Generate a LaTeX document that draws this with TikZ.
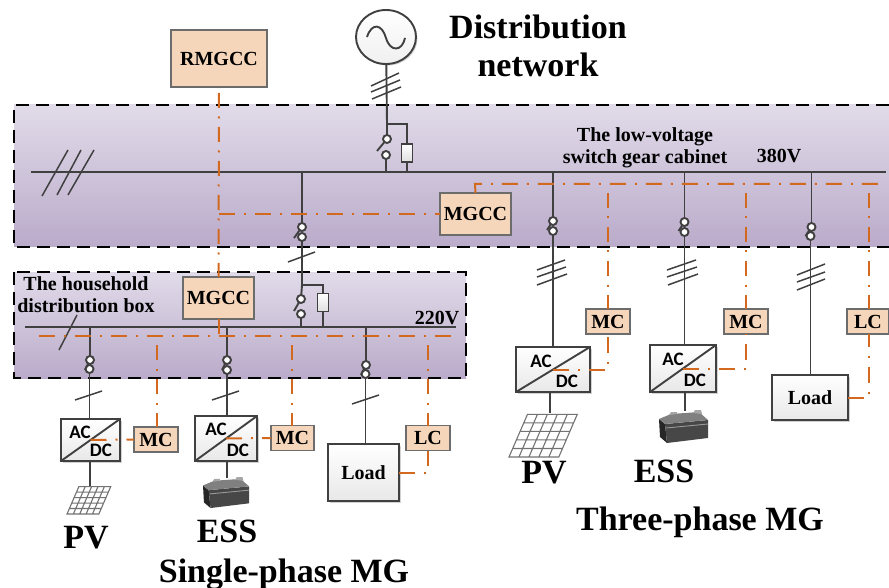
\documentclass[tikz,border=0pt]{standalone}
\usepackage{fontspec}
\setmainfont{Liberation Serif}
\newfontfamily\convfont{Carlito}
\usetikzlibrary{shapes.geometric,shadows}

\definecolor{ctrlorange}{RGB}{210,105,30}
\definecolor{ctrlfill}{RGB}{246,214,186}
\definecolor{gearcolor}{RGB}{64,64,64}
\definecolor{paneltop}{RGB}{225,219,233}
\definecolor{panelbot}{RGB}{186,171,202}

\newcommand{\slashmark}[4]{\draw [gearline, line width=1.5pt] (#1,#2) -- (#3,#4);}
\newcommand{\solarpanel}[3]{\draw [gray!90!black, line width=1.1pt, fill=white, shift={(#1,#2)}, scale=#3,
  cm={.35,0,.13,.30,(0,0)}, x=1cm, y=1cm] (0,0) rectangle (5,5) (0,0) grid (5,5);}
\newcommand{\batterypack}[3]{
\begin{scope}[shift={(#1,#2)}, scale=#3]
\fill [black!85] (0,9) -- (6,14) -- (8,33) -- (1,27) -- cycle;
\fill [black!72] (6,14) -- (49,10) -- (49,28) -- (8,33) -- cycle;
\fill [black!50] (0,9) -- (12,4) -- (40,2) -- (49,10) -- (6,14) -- cycle;
\fill [black!35] (10,5) -- (12,2) -- (18,2) -- (18,4) -- cycle;
\fill [black!35] (34,3) -- (36,0) -- (42,0) -- (43,4) -- cycle;
\draw [black!40, line width=0.9pt] (7,18) -- (49,14);
\end{scope}}

\begin{document}
\begin{tikzpicture}[x=1pt, y=-1pt]
\tikzset{ >=latex, inner sep=0pt, outer sep=0pt,
  softshadow/.style={drop shadow={shadow xshift=1.5pt, shadow yshift=-1.5pt, fill=black!35}},
  gearline/.style={draw=gearcolor, line width=1.9pt},
  ctrlbus/.style={draw=ctrlorange, line width=2pt, dash pattern=on 16pt off 9pt on 2pt off 9pt},
  ctrlwire/.style={draw=ctrlorange, line width=2pt, dash pattern=on 15pt off 8.5pt on 2pt off 8.5pt},
  panelbox/.style={top color=paneltop, bottom color=panelbot},
  panelrim/.style={draw=black, line width=1.4pt, dash pattern=on 13pt off 7pt},
  ctrlbox/.style={draw=gray!85!black, line width=1.2pt, fill=ctrlfill, font=\fontsize{20}{22}\selectfont\bfseries},
  contact/.style={circle, gearline, fill=white, minimum size=8pt},
  fusebox/.style={gearline, rectangle, top color=white, bottom color=gray!25, minimum width=11pt, minimum height=18pt},
  convbox/.style={gearline, rectangle, top color=white, bottom color=gray!18, softshadow},
  loadbox/.style={gearline, rectangle, top color=white, bottom color=gray!18, softshadow, font=\fontsize{20}{22}\selectfont\bfseries},
  convtext/.style={font=\fontsize{19}{20}\selectfont\convfont\bfseries},
  smalltext/.style={font=\fontsize{20}{22}\selectfont\bfseries, align=center},
  bigtext/.style={font=\fontsize{34}{38}\selectfont\bfseries, align=center},
}
\useasboundingbox (0,0) rectangle (889,588);

% panels
\fill [panelbox] (14,105) rectangle (889,247);
\draw [panelrim] (889,105) -- (14,105) -- (14,247) -- (889,247);
\fill [panelbox] (14,272) rectangle (466,378);
\draw [panelrim] (14,272) rectangle (466,378);

% bus bars
\coordinate (busL) at (31,172);
\coordinate (busR) at (886,172);
\coordinate (lbusL) at (25,327);
\coordinate (lbusR) at (456,327);
\draw [gearline] (busL) -- (busR);
\draw [gearline] (lbusL) -- (lbusR);

% control boxes
\node [ctrlbox, minimum width=96pt, minimum height=57pt] (RMGCC) at (219,58.5) {RMGCC};
\node [ctrlbox, minimum width=71pt, minimum height=42pt] (MGCCa) at (475.5,214) {MGCC};
\node [ctrlbox, minimum width=71pt, minimum height=42pt] (MGCCb) at (218.5,298) {MGCC};
\node [ctrlbox, minimum width=44pt, minimum height=25pt] (MCa) at (156,439.5) {MC};
\node [ctrlbox, minimum width=43pt, minimum height=25pt] (MCb) at (292.5,438) {MC};
\node [ctrlbox, minimum width=44pt, minimum height=25pt] (LCa) at (428,438) {LC};
\node [ctrlbox, minimum width=44pt, minimum height=25pt] (MCc) at (608,321.5) {MC};
\node [ctrlbox, minimum width=44pt, minimum height=25pt] (MCd) at (746,321.5) {MC};
\node [ctrlbox, minimum width=42pt, minimum height=25pt] (LCb) at (868,321.5) {LC};

% source
\node [ellipse, gearline, top color=white, bottom color=gray!12, softshadow, minimum width=60pt, minimum height=54pt] (source) at (386,37) {};
\draw [gearline] (367,37) .. controls (372,22) and (382,24) .. (386,38) .. controls (390,52) and (402,52) .. (405,38);

% switches
\node [contact] (swSa) at (387,139) {};
\node [contact] (swSb) at (386,155) {};
\node [contact] (swDa) at (302,227) {};
\node [contact] (swDb) at (302,237) {};
\node [contact] (swHa) at (301,299) {};
\node [contact] (swHb) at (301,314) {};
\node [contact] (swa) at (90,360) {};
\node [contact] (swb) at (89.5,369) {};
\node [contact] (swc) at (227,360) {};
\node [contact] (swd) at (227,370) {};
\node [contact] (swe) at (366,365) {};
\node [contact] (swf) at (365.5,374) {};
\node [contact] (swg) at (553,221) {};
\node [contact] (swh) at (553,231) {};
\node [contact] (swi) at (684.5,222) {};
\node [contact] (swj) at (684.5,232) {};
\node [contact] (swk) at (811.5,227) {};
\node [contact] (swl) at (810.5,236) {};

\node [fusebox] (fuseS) at (407,153) {};
\node [fusebox] (fuseH) at (323,302.5) {};

% converters and loads
\node [convbox, minimum width=59pt, minimum height=42pt] (convA) at (90.5,440) {};
\node [convbox, minimum width=62pt, minimum height=45pt] (convB) at (226,438.5) {};
\node [convbox, minimum width=74pt, minimum height=45pt] (convC) at (553,369.5) {};
\node [convbox, minimum width=66pt, minimum height=47pt] (convD) at (683,368.5) {};
\node [loadbox, minimum width=71pt, minimum height=57pt] (loadA) at (363.5,472.5) {Load};
\node [loadbox, minimum width=76pt, minimum height=45pt] (loadB) at (810,397.5) {Load};

\draw [gearline] (convA.south west) -- (convA.north east);
\draw [gearline] (convB.south west) -- (convB.north east);
\draw [gearline] (convC.south west) -- (convC.north east);
\draw [gearline] (convD.south west) -- (convD.north east);

\node [convtext] (acA) at (80,432) {AC};
\node [convtext] (dcA) at (101,450) {DC};
\node [convtext] (acB) at (216,429) {AC};
\node [convtext] (dcB) at (238,450) {DC};
\node [convtext] (acC) at (541,361) {AC};
\node [convtext] (dcC) at (567,381) {DC};
\node [convtext] (acD) at (673,359) {AC};
\node [convtext] (dcD) at (695,380) {DC};

% source feeder
\coordinate (forkS) at (387,124);
\coordinate (forkH) at (302,285);
\draw [gearline] (source) -- (forkS) -- (swSa);
\draw [gearline] (swSb) -- (swSb |- busL);
\draw [gearline] (forkS) -| (fuseS);
\draw [gearline] (fuseS) -- (fuseS |- busL);
\draw [gearline] (swSa) -- +(-10,12);

% drop to the household box
\draw [gearline] (swDa |- busL) -- (swDa);
\draw [gearline] (swDb) -- (forkH) -- (swHa);
\draw [gearline] (swDa) -- +(-8,11);
\draw [gearline] (forkH) -| (fuseH);
\draw [gearline] (fuseH) -- (fuseH |- lbusL);
\draw [gearline] (swHb) -- (swHb |- lbusL);
\draw [gearline] (swHa) -- +(-7,12);

% single-phase branches
\draw [gearline] (swa |- lbusL) -- (swa);
\draw [gearline] (swb) -- (swb |- convA.north);
\draw [gearline] (swa) -- +(-5,10);
\draw [gearline] (swc |- lbusL) -- (swc);
\draw [gearline] (swd) -- (swd |- convB.north);
\draw [gearline] (swc) -- +(-5,10);
\draw [gearline] (swe |- lbusL) -- (swe);
\draw [gearline] (swf) -- (swf |- loadA.north);
\draw [gearline] (swe) -- +(-5,10);

% three-phase branches
\draw [gearline] (swg |- busL) -- (swg);
\draw [gearline] (swh) -- (swh |- convC.north);
\draw [gearline] (swg) -- +(-6,9);
\draw [gearline] (swi |- busL) -- (swi);
\draw [gearline] (swj) -- (swj |- convD.north);
\draw [gearline] (swi) -- +(-6,9);
\draw [gearline] (swk |- busL) -- (swk);
\draw [gearline] (swl) -- (swl |- loadB.north);
\draw [gearline] (swk) -- +(-6,9);

% line marks
\slashmark{68}{150}{42}{196}
\slashmark{81}{150}{57}{195}
\slashmark{94}{150}{68}{195}
\slashmark{371}{86}{399}{73}
\slashmark{371}{92}{400}{80}
\slashmark{372}{99}{401}{87}
\slashmark{288}{262}{315}{252}
\slashmark{77}{315}{59}{350}
\slashmark{75}{400}{102}{391}
\slashmark{212}{400}{239}{391}
\slashmark{352}{404}{379}{395}
\slashmark{537}{270}{565}{260}
\slashmark{537}{277}{566}{267}
\slashmark{537}{285}{567}{274}
\slashmark{667}{270}{696}{260}
\slashmark{667}{277}{697}{267}
\slashmark{668}{285}{698}{274}
\slashmark{797}{275}{825}{264}
\slashmark{797}{282}{825}{272}
\slashmark{797}{290}{825}{279}

% sources under the converters
\coordinate (pvA) at (90,488);
\coordinate (essB) at (227,478);
\coordinate (pvC) at (550,413);
\coordinate (essD) at (685,411);
\draw [gearline] (pvA |- convA.south) -- (pvA);
\draw [gearline] (essB |- convB.south) -- (essB);
\draw [gearline] (pvC |- convC.south) -- (pvC);
\draw [gearline] (essD |- convD.south) -- (essD);
\solarpanel{67}{514}{0.64}
\solarpanel{509}{457}{1}
\batterypack{203}{477}{0.94}
\batterypack{659}{410}{1}

% control wiring
\coordinate (ctrlAL) at (39,336);
\coordinate (ctrlAR) at (456,336);
\coordinate (ctrlBL) at (475,184);
\coordinate (ctrlBR) at (886,184);
\coordinate (ctrlJ) at (219,214);
\draw [ctrlbus] (ctrlAL) -- (ctrlAR);
\draw [ctrlbus] (MGCCa.north) -- (ctrlBL) -- (ctrlBR);
\draw [ctrlwire, dash phase=28pt] (RMGCC.south) -- (MGCCb.north);
\draw [ctrlwire] (MGCCb.south) -- (MGCCb.south |- ctrlAL);
\draw [ctrlbus] (ctrlJ) -- (MGCCa.west);

\coordinate (dropA) at (157,345);
\coordinate (dropB) at (292,345);
\coordinate (dropC) at (428,345);
\coordinate (dropD) at (608,193);
\coordinate (dropE) at (746,193);
\coordinate (dropF) at (869,193);
\draw [ctrlwire] (dropA) -- (dropA |- MCa.north);
\draw [ctrlwire] (dropB) -- (dropB |- MCb.north);
\draw [ctrlwire] (dropC) -- (dropC |- LCa.north);
\draw [ctrlwire] (dropD) -- (dropD |- MCc.north);
\draw [ctrlwire] (dropE) -- (dropE |- MCd.north);
\draw [ctrlwire] (dropF) -- (dropF |- LCb.north);

\draw [ctrlbus] (convA.center) -- (MCa.west);
\draw [ctrlbus] (convB.center) -- (MCb.west);
\draw [ctrlbus] (loadA.east) -| (LCa.south);
\draw [ctrlbus] (convC.center) -| (MCc.south);
\draw [ctrlbus] (convD.center) -| (MCd.south);
\draw [ctrlbus] (loadB.east) -| (dropF |- LCb.south);

% labels
\node [bigtext] (distnet) at (538,45.5) {Distribution\\network};
\node [smalltext] (cabinet) at (645,148) {The low-voltage\\switch gear cabinet};
\node [smalltext] (volta) at (779,156) {380V};
\node [smalltext] (household) at (86,295) {The household\\distribution box};
\node [smalltext] (voltb) at (437,318) {220V};
\node [bigtext] (pvlabA) at (86,538) {PV};
\node [bigtext] (esslabA) at (227,531) {ESS};
\node [bigtext] (singlemg) at (284,574) {Single-phase MG};
\node [bigtext] (pvlabB) at (544,473) {PV};
\node [bigtext] (esslabB) at (664,471) {ESS};
\node [bigtext] (threemg) at (700,522) {Three-phase MG};
\end{tikzpicture}
\end{document}
